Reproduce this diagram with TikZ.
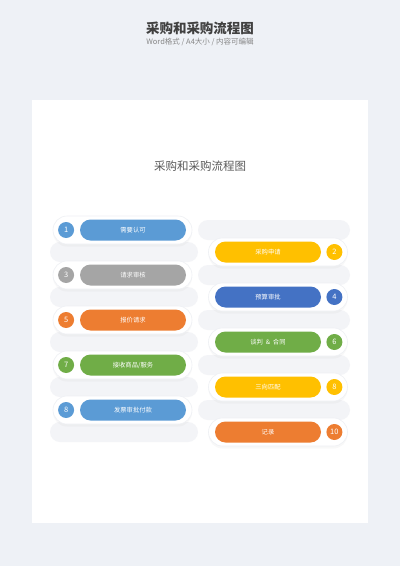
\documentclass[tikz,border=0pt]{standalone}
\usepackage{fontspec}
\setmainfont{Noto Sans CJK SC}
\usepackage{xcolor}
\usetikzlibrary{positioning,shadows}
\definecolor{bgcolor}{RGB}{238, 241, 246}
\definecolor{traycolor}{RGB}{243, 244, 247}
\definecolor{edgecolor}{RGB}{238, 240, 244}
\definecolor{titlecolor}{RGB}{64, 64, 64}
\definecolor{subcolor}{RGB}{135, 135, 135}
\definecolor{headcolor}{RGB}{90, 90, 90}
\definecolor{bluecolor}{RGB}{91, 155, 213}
\definecolor{navycolor}{RGB}{68, 114, 196}
\definecolor{yellowcolor}{RGB}{255, 192, 0}
\definecolor{greycolor}{RGB}{165, 165, 165}
\definecolor{orangecolor}{RGB}{237, 125, 49}
\definecolor{greencolor}{RGB}{112, 173, 71}

\tikzset{
  backdrop/.style={fill=white, draw=edgecolor, line width=0.6pt, rounded corners=14pt, minimum width=139pt,
    minimum height=28pt, inner sep=0pt,
    drop shadow={opacity=0.05, shadow xshift=0pt, shadow yshift=-2.5pt}},
  tray/.style={fill=traycolor, rounded corners=10pt, minimum width=#1, minimum height=20pt, inner sep=0pt},
  pill/.style={fill=#1, rounded corners=10.5pt, minimum width=106pt, minimum height=21pt, inner sep=0pt,
    text=white, font=\fontsize{6.3}{6.3}\selectfont},
  badge/.style={circle, fill=#1, minimum size=16pt, inner sep=0pt, text=white, font=\fontsize{7.5}{7.5}\selectfont},
}

\begin{document}
\begin{tikzpicture}[x=1pt, y=-1pt]
        \useasboundingbox[fill=bgcolor] (0, 0) rectangle (400, 566);

        % Header
        \node[font=\fontsize{13.5}{13.5}\selectfont\bfseries, text=titlecolor] (title) at (200, 28) {采购和采购流程图};
        \node[font=\fontsize{7.5}{7.5}\selectfont, text=subcolor] (subtitle) at (200, 42) {Word格式 / A4大小 / 内容可编辑};

        % Page
        \fill[white] (32, 100) rectangle (368, 523);
        \node[font=\fontsize{11.5}{11.5}\selectfont, text=headcolor] (heading) at (200, 166) {采购和采购流程图};

        % Trays {{{
        \foreach \y in {252, 297, 342, 387, 432} \node[tray=148pt] at (124, \y) {}; % left side
        \foreach \y in {230, 275, 320, 365, 410} \node[tray=152pt] at (274, \y) {}; % right side
        % }}}

        % Left column {{{
        \node[backdrop] (b1) at (122.5, 230) {};
        \node[pill=bluecolor] (need) at (133, 230) {需要认可};
        \node[badge=bluecolor, left=5.5pt of need] (n1) {1};

        \node[backdrop] (b3) at (122.5, 275) {};
        \node[pill=greycolor] (check) at (133, 275) {请求审核};
        \node[badge=greycolor, left=5.5pt of check] (n3) {3};

        \node[backdrop] (b5) at (122.5, 320) {};
        \node[pill=orangecolor] (quote) at (133, 320) {报价请求};
        \node[badge=orangecolor, left=5.5pt of quote] (n5) {5};

        \node[backdrop] (b7) at (122.5, 365) {};
        \node[pill=greencolor] (receive) at (133, 365) {接收商品/服务};
        \node[badge=greencolor, left=5.5pt of receive] (n7) {7};

        \node[backdrop] (b9) at (122.5, 410) {};
        \node[pill=bluecolor] (invoice) at (133, 410) {发票审批付款};
        \node[badge=bluecolor, left=5.5pt of invoice] (n9) {8};
        % }}}

        % Right column {{{
        \node[backdrop] (b2) at (278, 252) {};
        \node[pill=yellowcolor] (apply) at (268, 252) {采购申请};
        \node[badge=yellowcolor, right=5pt of apply] (n2) {2};

        \node[backdrop] (b4) at (278, 297) {};
        \node[pill=navycolor] (budget) at (268, 297) {预算审批};
        \node[badge=navycolor, right=5pt of budget] (n4) {4};

        \node[backdrop] (b6) at (278, 342) {};
        \node[pill=greencolor] (contract) at (268, 342) {谈判~ \&~ 合同};
        \node[badge=greencolor, right=5pt of contract] (n6) {6};

        \node[backdrop] (b8) at (278, 387) {};
        \node[pill=yellowcolor] (match) at (268, 387) {三向匹配};
        \node[badge=yellowcolor, right=5pt of match] (n8) {8};

        \node[backdrop] (b10) at (278, 432) {};
        \node[pill=orangecolor] (record) at (268, 432) {记录};
        \node[badge=orangecolor, right=5pt of record] (n10) {10};
        % }}}
\end{tikzpicture}
\end{document}
